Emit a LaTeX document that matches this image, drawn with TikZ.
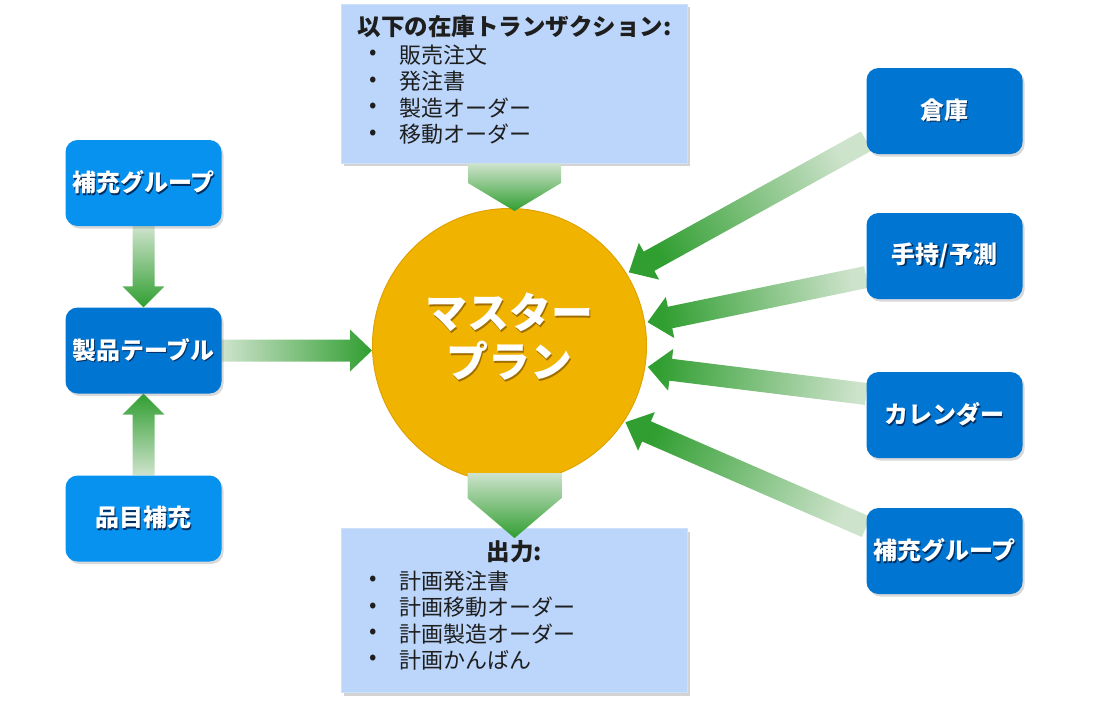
\documentclass[tikz,border=0pt]{standalone}
\usepackage{fontspec}
\setmainfont{Noto Sans CJK JP}
\usetikzlibrary{calc,shadows}
\definecolor{bbright}{RGB}{8,146,240}
\definecolor{bdark}{RGB}{0,117,210}
\definecolor{gold}{RGB}{240,180,0}
\definecolor{goldedge}{RGB}{224,162,0}
\definecolor{goldshadow}{RGB}{160,110,0}
\definecolor{lbox}{RGB}{187,214,250}
\definecolor{lboxedge}{RGB}{205,225,250}
\definecolor{gtip}{RGB}{48,158,48}
\definecolor{gpale}{RGB}{206,227,204}
\definecolor{tshadow}{RGB}{0,45,95}
\definecolor{itemcol}{RGB}{30,30,30}
\pgfdeclarelayer{bg}
\pgfsetlayers{bg,main}
\newcommand\shd[2]{\leavevmode\rlap{\hspace{1.2pt}\raisebox{-1.5pt}{\textcolor{#1}{#2}}}#2}
% #1 start, #2 tip (named coordinates), #3 shaft half width, #4 head half width, #5 head length
\newcommand\garrow[5]{%
  \pgfmathanglebetweenpoints{\pgfpointanchor{#1}{center}}{\pgfpointanchor{#2}{center}}%
  \pgfmathsetmacro\gang{\pgfmathresult-90}%
  \coordinate (hb) at ($(#2)!#5!(#1)$);
  \shade[top color=gtip, bottom color=gpale, shading angle=\gang]
    ($(#1)!#3!90:(#2)$) -- ($(hb)!#3!90:(#2)$) -- ($(hb)!#4!90:(#2)$) -- (#2)
    -- ($(hb)!#4!-90:(#2)$) -- ($(hb)!#3!-90:(#2)$) -- ($(#1)!#3!-90:(#2)$) -- cycle;
}
\begin{document}
\begin{tikzpicture}[x=1pt,y=1pt,
  bluebox/.style={rectangle, rounded corners=12pt, minimum width=156pt, minimum height=86pt,
    inner sep=0pt, text=white, font=\fontsize{24}{28}\selectfont\bfseries,
    drop shadow={shadow xshift=2pt, shadow yshift=-2.5pt, opacity=0.3}},
  infobox/.style={rectangle, fill=lbox, draw=lboxedge, line width=0.8pt, inner sep=0pt,
    drop shadow={shadow xshift=2.5pt, shadow yshift=-3pt, opacity=0.35}},
  itemtext/.style={anchor=west, inner sep=0pt, font=\fontsize{22}{26}\selectfont, text=itemcol},
  bulsym/.style={inner sep=0pt, font=\fontsize{22}{26}\selectfont, text=itemcol},
  headtext/.style={inner sep=0pt, font=\fontsize{23.5}{28}\selectfont\bfseries, text=itemcol},
]
\useasboundingbox (0,0) rectangle (1093,-702);

% left boxes
\node[bluebox, fill=bbright] (rg1) at (143.5,-183) {\shd{tshadow}{補充グループ}};
\node[bluebox, fill=bdark] (prod) at (143.5,-350.5) {\shd{tshadow}{製品テーブル}};
\node[bluebox, fill=bbright] (hin) at (143.5,-518.5) {\shd{tshadow}{品目補充}};

% right boxes
\node[bluebox, fill=bdark] (wh) at (944.5,-111) {\shd{tshadow}{倉庫}};
\node[bluebox, fill=bdark] (oh) at (944.5,-256) {\shd{tshadow}{手持/予測}};
\node[bluebox, fill=bdark] (cal) at (944.5,-415) {\shd{tshadow}{カレンダー}};
\node[bluebox, fill=bdark] (rg2) at (944.5,-551) {\shd{tshadow}{補充グループ}};

% info boxes
\node[infobox, minimum width=346pt, minimum height=159pt] (tbox) at (514.5,-83.5) {};
\node[infobox, minimum width=346pt, minimum height=164pt] (bbox) at (514.5,-610.5) {};

% central circle
\node[circle, fill=gold, draw=goldedge, line width=1pt, minimum size=274pt, inner sep=0pt] (mp) at (509.5,-345.5) {};
\node[inner sep=0pt, align=center, text=white, font=\fontsize{42}{49}\selectfont\bfseries] (mpt) at (509.5,-337.5)
  {\shd{goldshadow}{マスター}\\\shd{goldshadow}{プラン}};

% top box text
\node[headtext] (th) at (514.5,-27) {以下の在庫トランザクション:};
\foreach \t [count=\i] in {販売注文,発注書,製造オーダー,移動オーダー}{
  \node[bulsym] (tb\i) at (373,{-55-26.5*(\i-1)}) {•};
  \node[itemtext] (ti\i) at (399,{-55-26.5*(\i-1)}) {\t};
}
% bottom box text
\node[headtext] (bh) at (514.5,-552) {出力:};
\foreach \t [count=\i] in {計画発注書,計画移動オーダー,計画製造オーダー,計画かんばん}{
  \node[bulsym] (bb\i) at (373,{-581-26.3*(\i-1)}) {•};
  \node[itemtext] (bi\i) at (399,{-581-26.3*(\i-1)}) {\t};
}

% connector end points
\coordinate (a1s) at ($(wh.west)+(0,-30)$);
\coordinate (a2s) at ($(oh.west)+(0,-21)$);
\coordinate (a3s) at ($(cal.west)+(0,21)$);
\coordinate (a4s) at ($(rg2.west)+(0,24)$);
\coordinate (t1) at ($(mp.center)+(31.5:140)$);
\coordinate (t2) at ($(mp.center)+(9.6:140)$);
\coordinate (t3) at ($(mp.center)+(-8.8:140)$);
\coordinate (t4) at ($(mp.center)+(-33.5:139)$);
\coordinate (rg1s) at (rg1.south);
\coordinate (prodn) at (prod.north);
\coordinate (hinn) at (hin.north);
\coordinate (prods) at (prod.south);
\coordinate (prode) at (prod.east);
\coordinate (pt) at (prod.east -| mp.west);
\coordinate (tbs) at (tbox.south);
\coordinate (tt) at ($(tbox.south |- mp.north)+(0,-3)$);
\coordinate (bs) at ($(bbox.north |- mp.south)+(0,10)$);
\coordinate (bt) at ($(bbox.north)+(0,-10)$);

\begin{pgfonlayer}{bg}
  \garrow{a1s}{t1}{11pt}{21pt}{23pt}
  \garrow{a2s}{t2}{11pt}{21pt}{23pt}
  \garrow{a3s}{t3}{11pt}{21pt}{23pt}
  \garrow{a4s}{t4}{11pt}{21pt}{23pt}
  \garrow{rg1s}{prodn}{11pt}{21pt}{21pt}
  \garrow{hinn}{prods}{11pt}{21pt}{21pt}
  \garrow{prode}{pt}{11pt}{21pt}{22pt}
\end{pgfonlayer}
\garrow{tbs}{tt}{46.5pt}{46.5pt}{28pt}
\garrow{bs}{bt}{47pt}{47pt}{40pt}
\end{tikzpicture}
\end{document}
